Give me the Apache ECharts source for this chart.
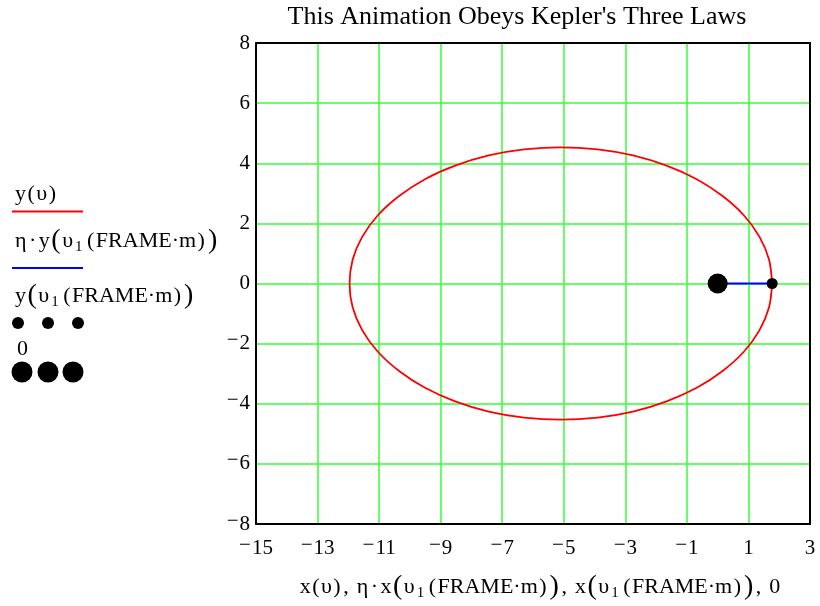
<!DOCTYPE html>
<html>
<head>
<meta charset="utf-8">
<script src="https://cdn.jsdelivr.net/npm/echarts@6/dist/echarts.min.js"></script>
<style>
  html, body { margin: 0; padding: 0; background: #fff; }
  #chart { width: 820px; height: 606px; }
</style>
</head>
<body>
<div id="chart"></div>
<script>
// ---- data ----
const xMin = -15, xMax = 3, xStep = 2;
const yMin = -8, yMax = 8, yStep = 2;

// orbit y(υ) vs x(υ)
const orbitX = [1.77, 1.67, 1.36, 0.85, 0.16, -0.68, -1.66, -2.75, -3.90, -5.10, -6.29, -7.44, -8.53, -9.51, -10.35, -11.04, -11.55, -11.86, -11.96,
                -11.86, -11.55, -11.04, -10.35, -9.51, -8.53, -7.44, -6.29, -5.10, -3.90, -2.75, -1.66, -0.68, 0.16, 0.85, 1.36, 1.67, 1.77];
const orbitY = [0, 0.79, 1.55, 2.27, 2.91, 3.47, 3.92, 4.26, 4.46, 4.53, 4.46, 4.26, 3.92, 3.47, 2.91, 2.27, 1.55, 0.79, 0,
                -0.79, -1.55, -2.27, -2.91, -3.47, -3.92, -4.26, -4.46, -4.53, -4.46, -4.26, -3.92, -3.47, -2.91, -2.27, -1.55, -0.79, 0];
// radius vector η·(x,y) from the sun to the planet
const radiusX = [0, 1.77];
const radiusY = [0, 0];
// planet position
const planetX = [1.77];
const planetY = [0];
// sun at the focus
const sunX = [0];
const sunY = [0];

const titleText = "This Animation Obeys Kepler's Three Laws";

// ---- chart ----
const FONT = 'Liberation Serif';
const GRID_GREEN = '#33ff33';
const zip = (xs, ys) => xs.map((x, i) => [x, ys[i]]);
const tickFmt = v => {
  const s = String(v);
  return s.charAt(0) === '-' ? '{m|\u2212}{n|' + s.slice(1) + '}' : '{n|' + s + '}';
};
const tickRich = {
  n: { fontFamily: FONT, fontSize: 21, color: '#000', padding: [3, 0, 3, 0] },
  m: { fontFamily: FONT, fontSize: 21, color: '#000', padding: [0, 1, 6, 0] }
};

const rich = {
  t: { fontFamily: FONT, fontSize: 22, color: '#000' },
  c: { fontFamily: FONT, fontSize: 22, color: '#000', padding: [0, 8, 0, 1] },
  q: { fontFamily: FONT, fontSize: 22, color: '#000', padding: [0, 1.5, 0, 1.5] },
  d: { fontFamily: FONT, fontSize: 22, color: '#000', padding: [0, 2.5, 0, 2.5] },
  p: { fontFamily: FONT, fontSize: 28, color: '#000', padding: [0, 1.5, 0, 1.5] },
  s: { fontFamily: FONT, fontSize: 15, color: '#000', verticalAlign: 'bottom', padding: [0, 3, 0, 2] }
};
const argPart = '{p|(}{t|υ}{s|1}{q|(}{t|FRAME·m}{q|)}{p|)}';

const chart = echarts.init(document.getElementById('chart'), null, { renderer: 'canvas' });
const hiddenAxis = {
  axisLine: { show: true, onZero: false, lineStyle: { color: '#000', width: 2 } },
  axisTick: { show: false }, axisLabel: { show: false }, splitLine: { show: false }
};
chart.setOption({
  animation: false,
  backgroundColor: '#fff',
  textStyle: { fontFamily: FONT },
  grid: { left: 256, right: 10, top: 43, bottom: 82 },
  xAxis: [{
    type: 'value', min: xMin, max: xMax, interval: xStep, position: 'bottom',
    axisLine: { show: true, onZero: false, lineStyle: { color: '#000', width: 2 } },
    axisTick: { show: false },
    axisLabel: { formatter: tickFmt, rich: tickRich, margin: 11 },
    splitLine: { show: true, lineStyle: { color: GRID_GREEN, width: 1.5, opacity: 1 } },
    name: '{t|x}{q|(}{t|υ}{q|)}{c|,}{t|η}{d|·}{t|x}' + argPart + '{c|,}{t|x}' + argPart + '{c|,}{t|0}',
    nameLocation: 'middle', nameGap: 49,
    nameTextStyle: { rich: rich, padding: [0, 0, 0, 14] }
  }, Object.assign({ type: 'value', min: xMin, max: xMax, interval: xStep, position: 'top' }, hiddenAxis)],
  yAxis: [{
    type: 'value', min: yMin, max: yMax, interval: yStep, position: 'left',
    axisLine: { show: true, onZero: false, lineStyle: { color: '#000', width: 2 } },
    axisTick: { show: false },
    axisLabel: { formatter: tickFmt, rich: tickRich, margin: 6 },
    splitLine: { show: true, lineStyle: { color: GRID_GREEN, width: 1.5, opacity: 1 } }
  }, Object.assign({ type: 'value', min: yMin, max: yMax, interval: yStep, position: 'right' }, hiddenAxis)],
  series: [
    { type: 'line', data: zip(orbitX, orbitY), smooth: 0.3, showSymbol: false, symbol: 'none',
      lineStyle: { color: '#ff0000', width: 1.8 }, z: 3 },
    { type: 'line', data: zip(radiusX, radiusY), showSymbol: false, symbol: 'none',
      lineStyle: { color: '#0000ff', width: 2 }, z: 4 },
    { type: 'scatter', data: zip(planetX, planetY), symbol: 'circle', symbolSize: 11,
      itemStyle: { color: '#000', opacity: 1 }, z: 5 },
    { type: 'scatter', data: zip(sunX, sunY), symbol: 'circle', symbolSize: 20,
      itemStyle: { color: '#000', opacity: 1 }, z: 5 }
  ],
  graphic: [
    { type: 'text', x: 517, y: 17, style: { text: titleText, fill: '#000', font: '26px "Liberation Serif"', align: 'center', verticalAlign: 'middle' } },
    // legend
    { type: 'text', x: 15, y: 194, style: { text: '{t|y}{q|(}{t|υ}{q|)}', rich: rich, verticalAlign: 'middle' } },
    { type: 'line', shape: { x1: 12, y1: 211.5, x2: 83, y2: 211.5 }, style: { stroke: '#ff0000', lineWidth: 2 } },
    { type: 'text', x: 15, y: 241, style: { text: '{t|η}{d|·}{t|y}' + argPart, rich: rich, verticalAlign: 'middle' } },
    { type: 'line', shape: { x1: 12, y1: 268, x2: 83, y2: 268 }, style: { stroke: '#0000ff', lineWidth: 2 } },
    { type: 'text', x: 15, y: 296, style: { text: '{t|y}' + argPart, rich: rich, verticalAlign: 'middle' } },
    { type: 'circle', shape: { cx: 18, cy: 323, r: 6 }, style: { fill: '#000' } },
    { type: 'circle', shape: { cx: 48, cy: 323, r: 6 }, style: { fill: '#000' } },
    { type: 'circle', shape: { cx: 78, cy: 323, r: 6 }, style: { fill: '#000' } },
    { type: 'text', x: 17, y: 349, style: { text: '0', fill: '#000', font: '22px "Liberation Serif"', verticalAlign: 'middle' } },
    { type: 'circle', shape: { cx: 22, cy: 372, r: 10.5 }, style: { fill: '#000' } },
    { type: 'circle', shape: { cx: 48, cy: 372, r: 10.5 }, style: { fill: '#000' } },
    { type: 'circle', shape: { cx: 73, cy: 372, r: 10.5 }, style: { fill: '#000' } }
  ]
});
</script>
</body>
</html>
